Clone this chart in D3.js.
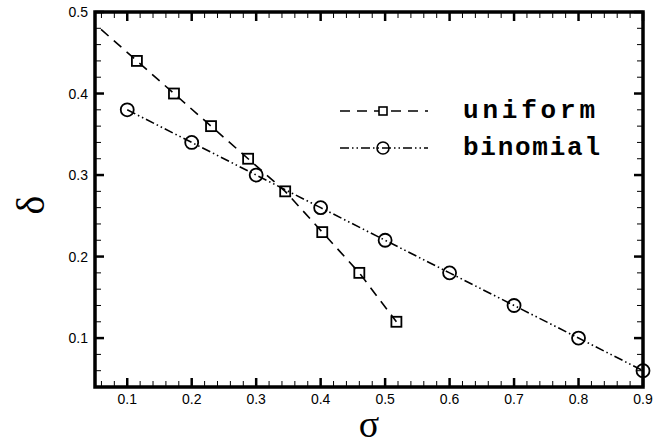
<!DOCTYPE html>
<html lang="en">
<head>
<script src="https://d3js.org/d3.v7.min.js"></script>
</head>
<body style="margin:0">
<script>
// Data
const sigmaUniform = [0.0, 0.115, 0.1725, 0.23, 0.2875, 0.345, 0.4025, 0.46, 0.5175];
const deltaUniform = [0.52, 0.44, 0.40, 0.36, 0.32, 0.28, 0.23, 0.18, 0.12];
const sigmaBinomial = [0.1, 0.2, 0.3, 0.4, 0.5, 0.6, 0.7, 0.8, 0.9];
const deltaBinomial = [0.38, 0.34, 0.30, 0.26, 0.22, 0.18, 0.14, 0.10, 0.06];
const xTicks = [0.1, 0.2, 0.3, 0.4, 0.5, 0.6, 0.7, 0.8, 0.9];
const yTicks = [0.1, 0.2, 0.3, 0.4, 0.5];
const xMinorTicks = [0.06, 0.08, 0.12, 0.14, 0.16, 0.18, 0.22, 0.24, 0.26, 0.28, 0.32, 0.34, 0.36, 0.38,
  0.42, 0.44, 0.46, 0.48, 0.52, 0.54, 0.56, 0.58, 0.62, 0.64, 0.66, 0.68, 0.72, 0.74, 0.76, 0.78,
  0.82, 0.84, 0.86, 0.88];
const yMinorTicks = [0.06, 0.08, 0.12, 0.14, 0.16, 0.18, 0.22, 0.24, 0.26, 0.28, 0.32, 0.34, 0.36, 0.38,
  0.42, 0.44, 0.46, 0.48];
const seriesNames = ["uniform", "binomial"];

const W = 669, H = 445;
const pLeft = 95, pRight = 643, pTop = 12, pBottom = 387;

const svg = d3.select("body").append("svg")
  .attr("width", W)
  .attr("height", H);

const x = d3.scaleLinear().domain([0.05, 0.9]).range([pLeft, pRight]);
const y = d3.scaleLinear().domain([0.04, 0.5]).range([pBottom, pTop]);

// frame
svg.append("rect")
  .attr("x", pLeft).attr("y", pTop).attr("width", pRight - pLeft).attr("height", pBottom - pTop)
  .attr("fill", "none").attr("stroke", "black").attr("stroke-width", 3.5);

// inward tick marks on all four sides
function tickMarks(vals, len, w) {
  vals.forEach(v => {
    svg.append("line").attr("x1", x(v)).attr("x2", x(v)).attr("y1", pBottom).attr("y2", pBottom - len)
      .attr("stroke", "black").attr("stroke-width", w);
    svg.append("line").attr("x1", x(v)).attr("x2", x(v)).attr("y1", pTop).attr("y2", pTop + len)
      .attr("stroke", "black").attr("stroke-width", w);
  });
}
function tickMarksY(vals, len, w) {
  vals.forEach(v => {
    svg.append("line").attr("y1", y(v)).attr("y2", y(v)).attr("x1", pLeft).attr("x2", pLeft + len)
      .attr("stroke", "black").attr("stroke-width", w);
    svg.append("line").attr("y1", y(v)).attr("y2", y(v)).attr("x1", pRight).attr("x2", pRight - len)
      .attr("stroke", "black").attr("stroke-width", w);
  });
}
tickMarks(xMinorTicks, 6, 1);
tickMarks(xTicks, 9, 2.5);
tickMarksY(yMinorTicks, 6, 1);
tickMarksY(yTicks, 9, 2.5);

// tick labels
svg.append("g").selectAll("text").data(xTicks).join("text")
  .attr("x", d => x(d)).attr("y", 404)
  .attr("text-anchor", "middle")
  .style("font", "14px 'Liberation Sans', Arial, sans-serif")
  .attr("fill", "black")
  .text(d => d3.format(".1f")(d));
svg.append("g").selectAll("text").data(yTicks).join("text")
  .attr("x", 88).attr("y", d => y(d) + 5)
  .attr("text-anchor", "end")
  .style("font", "14px 'Liberation Sans', Arial, sans-serif")
  .attr("fill", "black")
  .text(d => d3.format(".1f")(d));

// axis titles
svg.append("text")
  .attr("x", 369).attr("y", 437)
  .attr("text-anchor", "middle")
  .style("font", "38px 'Liberation Serif', 'DejaVu Serif', serif")
  .attr("fill", "black")
  .text("σ");
svg.append("text")
  .attr("transform", "translate(44,205) rotate(-90)")
  .attr("text-anchor", "middle")
  .style("font", "40px 'Liberation Serif', 'DejaVu Serif', serif")
  .attr("fill", "black")
  .text("δ");

// clip
svg.append("clipPath").attr("id", "plotclip")
  .append("rect").attr("x", pLeft).attr("y", pTop).attr("width", pRight - pLeft).attr("height", pBottom - pTop);

const plot = svg.append("g").attr("clip-path", "url(#plotclip)");

const uni = sigmaUniform.map((s, i) => ({x: s, y: deltaUniform[i]}));
const bin = sigmaBinomial.map((s, i) => ({x: s, y: deltaBinomial[i]}));

const lineGen = d3.line().x(d => x(d.x)).y(d => y(d.y));

const dashU = "10,7";
const dashB = "9,3,1.5,3,1.5,3";

plot.append("path").datum(uni)
  .attr("fill", "none").attr("stroke", "black").attr("stroke-width", 1.6)
  .attr("stroke-dasharray", dashU)
  .attr("d", lineGen);
plot.append("path").datum(bin)
  .attr("fill", "none").attr("stroke", "black").attr("stroke-width", 1.6)
  .attr("stroke-dasharray", dashB)
  .attr("d", lineGen);

const sq = 10;
plot.selectAll("rect.sq").data(uni).join("rect")
  .attr("class", "sq")
  .attr("x", d => x(d.x) - sq / 2).attr("y", d => y(d.y) - sq / 2)
  .attr("width", sq).attr("height", sq)
  .attr("fill", "none").attr("stroke", "black").attr("stroke-width", 1.8);

// circles are not clipped (last one sits on the frame)
svg.append("g").selectAll("circle").data(bin).join("circle")
  .attr("cx", d => x(d.x)).attr("cy", d => y(d.y)).attr("r", 6.5)
  .attr("fill", "none").attr("stroke", "black").attr("stroke-width", 1.8);

// legend
const legY = [111, 148];
const legDash = [dashU, dashB];
seriesNames.forEach((name, i) => {
  svg.append("line")
    .attr("x1", 340).attr("x2", 428).attr("y1", legY[i]).attr("y2", legY[i])
    .attr("stroke", "black").attr("stroke-width", 1.6)
    .attr("stroke-dasharray", legDash[i]);
  if (i === 0) {
    svg.append("rect").attr("x", 383 - 4).attr("y", legY[i] - 4).attr("width", 8).attr("height", 8)
      .attr("fill", "white").attr("stroke", "black").attr("stroke-width", 1.6);
  } else {
    svg.append("circle").attr("cx", 383).attr("cy", legY[i]).attr("r", 6)
      .attr("fill", "none").attr("stroke", "black").attr("stroke-width", 1.6);
  }
  svg.append("text")
    .attr("x", 463).attr("y", legY[i] + 7)
    .attr("textLength", i === 0 ? 132 : 137)
    .attr("lengthAdjust", "spacing")
    .style("font", "bold 26px 'Liberation Mono', 'Courier New', monospace")
    .attr("fill", "black")
    .text(name);
});
</script>
</body>
</html>
